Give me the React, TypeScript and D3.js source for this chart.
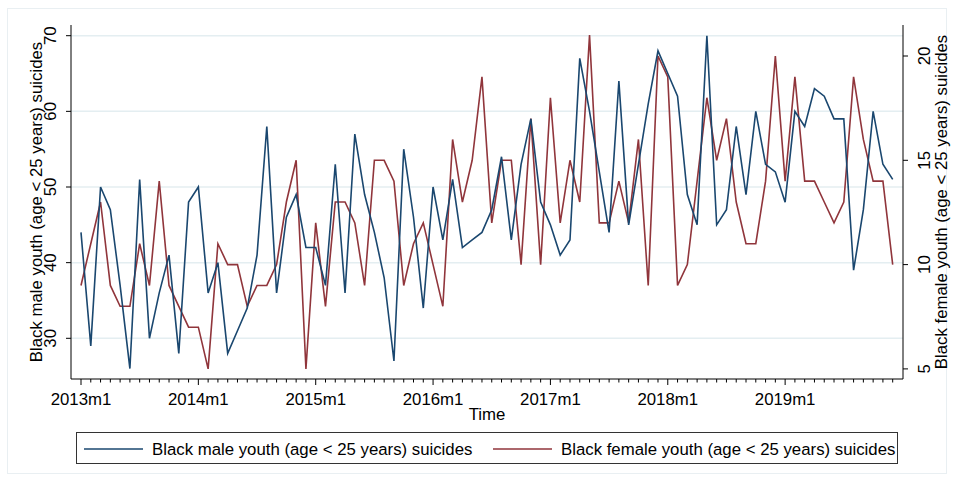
import * as d3 from 'd3';

// monthly counts, 2013m1 .. 2019m12
const maleSuicides = [
  44, 29, 50, 47, 37, 26, 51, 30, 36, 41, 28, 48,
  50, 36, 40, 28, 31, 34, 41, 58, 36, 46, 49, 42,
  42, 37, 53, 36, 57, 49, 44, 38, 27, 55, 46, 34,
  50, 43, 51, 42, 43, 44, 47, 54, 43, 53, 59, 48,
  45, 41, 43, 67, 60, 52, 44, 64, 45, 53, 61, 68,
  65, 62, 49, 45, 70, 45, 47, 58, 49, 60, 53, 52,
  48, 60, 58, 63, 62, 59, 59, 39, 47, 60, 53, 51,
];

const femaleSuicides = [
  9, 11, 13, 9, 8, 8, 11, 9, 14, 9, 8, 7,
  7, 5, 11, 10, 10, 8, 9, 9, 10, 13, 15, 5,
  12, 8, 13, 13, 12, 9, 15, 15, 14, 9, 11, 12,
  10, 8, 16, 13, 15, 19, 12, 15, 15, 10, 17, 10,
  18, 12, 15, 13, 21, 12, 12, 14, 12, 16, 9, 20,
  19, 9, 10, 14, 18, 15, 17, 13, 11, 11, 14, 20,
  14, 19, 14, 14, 13, 12, 13, 19, 16, 14, 14, 10,
];

const years = [2013, 2014, 2015, 2016, 2017, 2018, 2019];
const leftTicks = [30, 40, 50, 60, 70];
const rightTicks = [5, 10, 15, 20];

const maleLabel = 'Black male youth (age < 25 years) suicides';
const femaleLabel = 'Black female youth (age < 25 years) suicides';

const W = 954;
const H = 481;
const PLOT = { left: 71, right: 903, top: 25, bottom: 379 };
const BLUE = '#1a476f';
const RED = '#90353b';
const FONT = '"Liberation Sans", Arial, Helvetica, sans-serif';

export default function App() {
  const x = d3.scaleLinear().domain([0, 83]).range([81, 892.7]);
  const yL = d3.scaleLinear().domain([30, 70]).range([338.3, 35.7]);
  const yR = d3.scaleLinear().domain([5, 20]).range([368.9, 56]);

  const maleLine = d3
    .line<number>()
    .x((_, i) => x(i))
    .y((d) => yL(d));
  const femaleLine = d3
    .line<number>()
    .x((_, i) => x(i))
    .y((d) => yR(d));

  const months = d3.range(maleSuicides.length);

  return (
    <svg
      width={W}
      height={H}
      style={{ position: 'absolute', left: 0, top: 0, background: '#fff' }}
      fontFamily={FONT}
    >
      <rect x={7.5} y={8.5} width={939} height={465} fill="#fff" stroke="#e9eff2" />

      {/* grid */}
      {leftTicks.map((t) => (
        <line
          key={'g' + t}
          x1={PLOT.left}
          x2={PLOT.right}
          y1={yL(t)}
          y2={yL(t)}
          stroke="#e4eef1"
          strokeWidth={1.5}
        />
      ))}

      {/* series */}
      <path d={femaleLine(femaleSuicides) ?? ''} fill="none" stroke={RED} strokeWidth={1.6} strokeLinejoin="miter" />
      <path d={maleLine(maleSuicides) ?? ''} fill="none" stroke={BLUE} strokeWidth={1.6} strokeLinejoin="miter" />

      {/* axes */}
      <g stroke="#000" strokeWidth={1} fill="none">
        <line x1={PLOT.left} x2={PLOT.left} y1={PLOT.top} y2={PLOT.bottom} />
        <line x1={PLOT.right} x2={PLOT.right} y1={PLOT.top} y2={PLOT.bottom} />
        <line x1={PLOT.left} x2={PLOT.right} y1={PLOT.bottom} y2={PLOT.bottom} />
        {months.map((m) => (
          <line key={'mt' + m} x1={x(m)} x2={x(m)} y1={PLOT.bottom} y2={PLOT.bottom + (m % 12 === 0 ? 6 : 3.5)} />
        ))}
        {leftTicks.map((t) => (
          <line key={'lt' + t} x1={PLOT.left - 5} x2={PLOT.left} y1={yL(t)} y2={yL(t)} />
        ))}
        {rightTicks.map((t) => (
          <line key={'rt' + t} x1={PLOT.right} x2={PLOT.right + 5} y1={yR(t)} y2={yR(t)} />
        ))}
      </g>

      {/* tick labels */}
      <g fontSize={16.8} fill="#000">
        {years.map((yr, i) => (
          <text key={yr} x={x(i * 12)} y={405} textAnchor="middle">
            {yr}m1
          </text>
        ))}
        {leftTicks.map((t) => (
          <text key={'ll' + t} transform={`translate(56,${yL(t)}) rotate(-90)`} textAnchor="middle">
            {t}
          </text>
        ))}
        {rightTicks.map((t) => (
          <text key={'rl' + t} transform={`translate(930,${yR(t)}) rotate(-90)`} textAnchor="middle">
            {t}
          </text>
        ))}
      </g>

      {/* axis titles */}
      <g fontSize={16.8} fill="#000">
        <text x={(PLOT.left + PLOT.right) / 2} y={420} textAnchor="middle">
          Time
        </text>
        <text transform={`translate(42,${(PLOT.top + PLOT.bottom) / 2}) rotate(-90)`} textAnchor="middle">
          {maleLabel}
        </text>
        <text transform={`translate(947,${(PLOT.top + PLOT.bottom) / 2}) rotate(-90)`} textAnchor="middle">
          {femaleLabel}
        </text>
      </g>

      {/* legend */}
      <g>
        <rect x={76.5} y={432.5} width={821} height={31} fill="#fff" stroke="#333" strokeWidth={1} />
        <line x1={84} x2={143} y1={449} y2={449} stroke={BLUE} strokeWidth={1.6} />
        <text x={152} y={455} fontSize={16.8}>
          {maleLabel}
        </text>
        <line x1={493} x2={552} y1={449} y2={449} stroke={RED} strokeWidth={1.6} />
        <text x={561} y={455} fontSize={16.8}>
          {femaleLabel}
        </text>
      </g>
    </svg>
  );
}
